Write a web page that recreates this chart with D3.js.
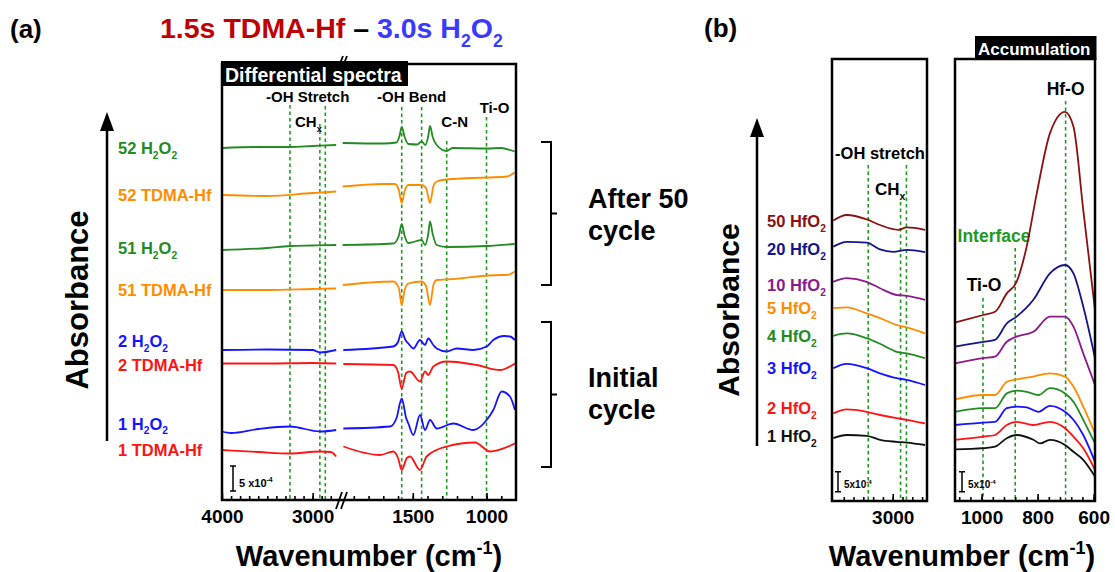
<!DOCTYPE html>
<html>
<head>
<meta charset="utf-8">
<script src="https://cdn.jsdelivr.net/npm/d3@7"></script>
<style>
body { margin: 0; background: #fff; }
svg text { font-family: "Liberation Sans", Arial, sans-serif; font-weight: bold; }
</style>
</head>
<body>
<svg id="chart" width="1115" height="572"></svg>
<script>
// ---- data: [wavenumber (cm-1), absorbance x1e-4 incl. stacking offset] ----

// panel (a), differential spectra
var a52H2O2 = [[4000,70.4],[3600,70.6],[3250,70.6],[3000,70.8],[2740,71.0],
  [1975,71.4],[1700,71.3],[1610,71.5],[1590,72.8],[1575,74.6],[1555,72.6],[1530,71.2],
  [1470,71.1],[1440,71.7],[1415,71.0],[1395,72.8],[1383,74.8],[1365,72.6],[1338,71.0],
  [1270,69.8],[1230,70.4],[1000,70.3],[900,70.4],[840,70.0],[810,69.7]];
var a52TDMA = [[4000,61.0],[3500,60.8],[3000,61.4],[2900,61.5],[2740,61.7],
  [1975,62.7],[1700,63.2],[1620,63.2],[1595,62.0],[1575,59.4],[1555,61.8],[1530,63.0],
  [1440,63.0],[1410,62.4],[1383,59.4],[1360,62.8],[1338,63.7],[1270,64.1],[1000,64.5],
  [860,64.7],[810,65.5]];
var a51H2O2 = [[4000,50.0],[3500,50.4],[3250,50.8],[3000,50.9],[2740,51.0],
  [1975,51.0],[1632,51.3],[1595,52.8],[1575,55.2],[1555,52.8],[1530,51.4],[1440,52.0],
  [1417,51.0],[1395,53.2],[1383,55.7],[1365,53.2],[1338,51.0],[1270,50.6],[1000,50.8],
  [810,51.2]];
var a51TDMA = [[4000,42.0],[3500,42.0],[3000,42.2],[2740,42.3],
  [1975,43.0],[1632,43.7],[1595,42.4],[1575,39.0],[1555,42.0],[1530,43.3],[1440,43.7],
  [1410,42.8],[1383,39.0],[1360,43.0],[1338,44.0],[1270,44.1],[900,45.0],[863,45.0],
  [807,45.7]];
var a2H2O2 = [[4000,30.0],[3500,30.1],[3000,30.0],[2919,29.5],[2740,30.0],
  [1971,30.0],[1632,30.7],[1600,31.6],[1575,33.7],[1550,32.0],[1530,31.3],[1496,30.3],
  [1451,32.0],[1417,31.0],[1395,32.3],[1361,31.0],[1338,30.3],[1270,29.7],[1202,30.3],
  [1090,30.0],[999,30.7],[954,32.0],[880,32.8],[841,32.7],[807,32.0]];
var a2TDMA = [[4000,27.3],[3500,27.3],[3000,27.4],[2740,27.3],
  [1971,27.2],[1632,27.0],[1600,25.6],[1575,22.3],[1545,25.4],[1519,25.7],[1451,23.7],
  [1417,25.7],[1395,25.0],[1361,26.7],[1270,27.7],[1066,27.0],[909,26.0],[807,27.3]];
var a1H2O2 = [[4000,13.7],[3900,13.4],[3600,14.2],[3250,14.7],[2919,13.7],[2740,14.0],
  [1971,14.3],[1654,14.7],[1610,16.4],[1575,20.3],[1545,16.4],[1530,15.3],[1496,13.0],
  [1451,17.0],[1417,14.0],[1383,16.0],[1338,14.3],[1225,15.3],[1090,14.0],[999,16.0],
  [954,18.0],[897,21.7],[841,20.7],[807,18.0]];
var a1TDMA = [[4000,10.0],[3600,9.6],[3250,9.3],[2919,9.7],[2800,9.6],[2740,8.7],
  [1971,10.7],[1722,9.0],[1632,9.7],[1600,8.4],[1575,6.0],[1540,8.4],[1519,8.7],
  [1451,6.0],[1406,8.7],[1270,10.7],[1078,11.5],[976,9.7],[807,11.3]];

var aNames = ["52 H2O2", "52 TDMA-Hf", "51 H2O2", "51 TDMA-Hf",
  "2 H2O2", "2 TDMA-Hf", "1 H2O2", "1 TDMA-Hf"];
var aSpectra = [a52H2O2, a52TDMA, a51H2O2, a51TDMA, a2H2O2, a2TDMA, a1H2O2, a1TDMA];
var aColors = ["#228b22", "#ff8c00", "#228b22", "#ff8c00",
  "#1414ff", "#ff1414", "#1414ff", "#ff1414"];
var aBands = [3250, 2920, 2860, 1575, 1440, 1270, 1000];

// panel (b), accumulated spectra
var b50 = [[3607,70.1],[3470,71.5],[3266,70.4],[3130,69.0],[2943,67.8],[2857,68.4],[2670,67.8],
  [1095,44.6],[994,46.5],[952,47.3],[910,51.9],[875,54.8],[839,63.6],[803,76.9],[756,91.9],
  [702,97.3],[672,93.6],[637,72.8],[595,47.8]];
var b20 = [[3607,63.6],[3470,64.8],[3266,64.6],[3130,62.9],[2994,62.3],[2857,62.8],[2670,62.2],
  [1095,38.6],[994,39.8],[952,40.3],[910,44.4],[875,46.1],[815,50.3],[756,56.9],[702,59.0],
  [672,56.9],[637,48.6],[595,35.7]];
var b10 = [[3607,54.8],[3470,55.7],[3266,54.8],[3130,53.2],[2960,51.5],[2857,51.3],[2670,50.3],
  [1095,34.4],[994,35.7],[952,36.1],[910,39.8],[875,41.1],[815,42.3],[756,46.1],[702,46.1],
  [672,43.6],[637,36.9],[595,29.0]];
var b5 = [[3607,48.2],[3470,48.4],[3266,46.9],[3130,45.7],[2960,44.0],[2857,43.4],[2670,41.9],
  [1095,25.4],[994,26.5],[952,26.5],[910,29.8],[875,30.4],[815,31.1],[756,31.9],[702,31.1],
  [672,28.6],[637,23.6],[595,16.9]];
var b4 = [[3607,41.3],[3470,41.9],[3266,40.7],[3130,39.3],[2960,37.3],[2857,36.9],[2670,35.7],
  [1095,22.3],[994,23.2],[952,23.2],[910,26.9],[875,27.6],[839,27.3],[797,26.5],[756,28.2],
  [702,26.9],[672,24.8],[637,20.3],[595,14.4]];
var b3 = [[3607,33.2],[3470,34.3],[3266,33.2],[3130,31.9],[2960,30.7],[2857,30.3],[2670,29.0],
  [1095,19.0],[994,19.6],[952,19.8],[910,23.2],[875,23.6],[839,23.4],[797,22.3],[756,23.8],
  [702,22.3],[672,20.3],[637,16.5],[595,9.8]];
var b2 = [[3607,21.9],[3470,22.9],[3266,22.3],[3130,21.5],[2960,20.7],[2857,20.3],[2670,19.4],
  [1095,15.3],[994,16.1],[952,16.5],[910,19.0],[875,19.8],[815,19.0],[756,19.8],[702,18.2],
  [672,16.1],[637,13.2],[595,7.8]];
var b1 = [[3607,15.7],[3470,16.5],[3266,16.3],[3130,15.3],[2960,14.8],[2857,14.6],[2670,14.0],
  [1095,12.9],[994,13.2],[952,13.6],[910,15.7],[875,16.5],[815,15.3],[791,14.4],[756,15.3],
  [702,14.0],[672,12.3],[637,10.3],[595,6.1]];

var bNames = ["50 HfO2", "20 HfO2", "10 HfO2", "5 HfO2", "4 HfO2", "3 HfO2", "2 HfO2", "1 HfO2"];
var bSpectra = [b50, b20, b10, b5, b4, b3, b2, b1];
var bColors = ["#8b1010", "#14148c", "#8b1a8b", "#ff8c00", "#228b22", "#1414ff", "#ff1414", "#111111"];
var bBandsLeft = [3250, 2920, 2860];
var bBandsRight = [995, 880, 700];

// ---- layout ----
var green = "#1f9a1f";
var svg = d3.select("#chart");

var xAL = d3.scaleLinear().domain([4000, 2720]).range([222, 338]);
var xAR = d3.scaleLinear().domain([1980, 800]).range([342, 516]);
var yA = d3.scaleLinear().domain([0, 87.2]).range([500, 64]);

var xBL = d3.scaleLinear().domain([3620, 2650]).range([832, 927]);
var xBR = d3.scaleLinear().domain([1095, 595]).range([955, 1095]);
var yB = d3.scaleLinear().domain([0, 110.5]).range([501, 59]);

// text with sub/superscripts
function chemParts(s) {
  var parts = [], re = /([A-Za-z])(\d)/g, last = 0, m;
  while ((m = re.exec(s))) {
    parts.push([s.slice(last, m.index + 1)]);
    parts.push([m[2], "sub"]);
    last = m.index + 2;
  }
  if (last < s.length) parts.push([s.slice(last)]);
  return parts;
}
function addText(g, x, y, parts, size, fill, anchor) {
  var t = g.append("text").attr("x", x).attr("y", y)
    .attr("fill", fill || "#000").attr("text-anchor", anchor || "start")
    .style("font-size", size + "px");
  var prev = 0;
  parts.forEach(function (p) {
    var off = p[1] === "sub" ? size * 0.3 : p[1] === "sup" ? -size * 0.42 : 0;
    t.append("tspan").attr("dy", off - prev)
      .style("font-size", (p[1] ? size * 0.62 : size) + "px")
      .attr("fill", p[2] || null)
      .text(p[0]);
    prev = off;
  });
  return t;
}

function drawSpectra(g, spectra, colors, xLeft, xRight, yScale, split) {
  spectra.forEach(function (s, i) {
    [s.filter(function (d) { return d[0] > split; }),
     s.filter(function (d) { return d[0] <= split; })].forEach(function (seg, k) {
      var xs = k === 0 ? xLeft : xRight;
      var line = d3.line()
        .x(function (d) { return xs(d[0]); })
        .y(function (d) { return yScale(d[1]); })
        .curve(d3.curveMonotoneX);
      g.append("path").datum(seg).attr("d", line)
        .attr("fill", "none").attr("stroke", colors[i]).attr("stroke-width", 1.8);
    });
  });
}

function dashed(g, x, y0, y1) {
  g.append("line").attr("x1", x).attr("x2", x).attr("y1", y0).attr("y2", y1)
    .attr("stroke", green).attr("stroke-width", 1.6).attr("stroke-dasharray", "3.5,3");
}

function ticks(g, scale, minor, major, y, labelled) {
  var axMinor = d3.axisBottom(scale).tickValues(minor).tickSize(-4).tickFormat("");
  var axMajor = d3.axisBottom(scale).tickValues(major).tickSize(-7).tickPadding(10)
    .tickFormat(labelled ? d3.format("d") : "");
  [axMinor, axMajor].forEach(function (ax) {
    var a = g.append("g").attr("transform", "translate(0," + y + ")").call(ax);
    a.select(".domain").remove();
    a.selectAll("line").attr("stroke", "#000").attr("stroke-width", 1.6);
    a.selectAll("text").attr("fill", "#000")
      .style("font-size", "19px").style("font-family", "'Liberation Sans', Arial, sans-serif")
      .style("font-weight", "bold");
  });
}

function scaleBar(g, x, y, v0, label, size) {
  var y0 = y(v0), y1 = y(v0 + 5);
  g.append("path").attr("d", "M" + (x - 3) + "," + y0 + "H" + (x + 3) + "M" + x + "," + y0 +
    "V" + y1 + "M" + (x - 3) + "," + y1 + "H" + (x + 3))
    .attr("stroke", "#000").attr("stroke-width", 1.5).attr("fill", "none");
  addText(g, x + 6, y0 - 4, label, size);
}

function arrow(g, x, yTop, yBottom) {
  g.append("line").attr("x1", x).attr("x2", x).attr("y1", yBottom).attr("y2", yTop + 14)
    .attr("stroke", "#000").attr("stroke-width", 2.5);
  g.append("path").attr("d", "M" + x + "," + yTop + "L" + (x - 7) + "," + (yTop + 19) +
    "L" + (x + 7) + "," + (yTop + 19) + "Z").attr("fill", "#000");
}

// ================= panel (a) =================
var ga = svg.append("g");
addText(ga, 10, 38, [["(a)"]], 26);
addText(ga, 160, 38, [["1.5s TDMA-Hf", null, "#c00000"], [" \u2013 ", null, "#000"],
  ["3.0s H", null, "#3a3aff"], ["2", "sub", "#3a3aff"], ["O", null, "#3a3aff"], ["2", "sub", "#3a3aff"]], 28.5);

// bands
var aBandTop = [105, 124, 106, 107, 107, 141, 117];
aBands.forEach(function (w, i) {
  dashed(ga, w > 2300 ? xAL(w) : xAR(w), aBandTop[i], 499);
});
addText(ga, (xAL(3250) + xAL(2860)) / 2, 102, [["-OH Stretch"]], 15, "#000", "middle");
addText(ga, xAL(2920) + 2, 127, [["CH"], ["x", "sub"]], 15, "#000", "end");
addText(ga, (xAR(1575) + xAR(1440)) / 2, 102, [["-OH Bend"]], 15, "#000", "middle");
addText(ga, xAR(1270) + 8, 127, [["C-N"]], 15, "#000", "middle");
addText(ga, xAR(1000) + 8, 113, [["Ti-O"]], 15, "#000", "middle");

drawSpectra(ga, aSpectra, aColors, xAL, xAR, yA, 2300);

// frame and header tab
ga.append("rect").attr("x", 222).attr("y", 64).attr("width", 294).attr("height", 436)
  .attr("fill", "none").attr("stroke", "#000").attr("stroke-width", 2.5);
ga.append("rect").attr("x", 221).attr("y", 61).attr("width", 187).attr("height", 25).attr("fill", "#000");
addText(ga, 225, 81.5, [["Differential spectra"]], 19.5, "#fff");

// axis break marks
ga.append("path").attr("d", "M336,509L342,492M341,509L347,492M339,66L343,56M343,66L347,56")
  .attr("stroke", "#000").attr("stroke-width", 1.8);

ticks(ga, xAL, d3.range(2800, 4000, 100), [4000, 3000], 500, true);
ticks(ga, xAR, d3.range(900, 1980, 100), [1500, 1000], 500, true);

scaleBar(ga, 233, yA, 1.8, [["5 x10"], ["-4", "sup"]], 11);

// series labels
var aNudge = [0, 0, -2, 0, -9, 1, -8, 0];
aNames.forEach(function (n, i) {
  addText(ga, 118, yA(aSpectra[i][0][1]) + 6 + aNudge[i], chemParts(n), 16.5, aColors[i]);
});

arrow(ga, 107, 112, 441);
ga.append("text").attr("transform", "translate(88,300) rotate(-90)")
  .attr("text-anchor", "middle").style("font-size", "31px").text("Absorbance");
addText(ga, 369, 566, [["Wavenumber (cm"], ["-1", "sup"], [")"]], 29, "#000", "middle");

// brackets
[[142, 285], [322, 467]].forEach(function (b) {
  ga.append("path").attr("d", "M541," + b[0] + "H551V" + b[1] + "H541M551," +
    ((b[0] + b[1]) / 2) + "H557").attr("fill", "none").attr("stroke", "#000").attr("stroke-width", 2);
});
addText(ga, 588, 208, [["After 50"]], 27);
addText(ga, 588, 240, [["cycle"]], 27);
addText(ga, 588, 387, [["Initial"]], 27);
addText(ga, 588, 419, [["cycle"]], 27);

// ================= panel (b) =================
var gb = svg.append("g");
addText(gb, 704, 37, [["(b)"]], 26);

var bTopLeft = [165, 202, 165];
bBandsLeft.forEach(function (w, i) { dashed(gb, xBL(w), bTopLeft[i], 500); });
var bTopRight = [298, 248, 101];
bBandsRight.forEach(function (w, i) { dashed(gb, xBR(w), bTopRight[i], 500); });

addText(gb, 880, 159, [["-OH stretch"]], 16.5, "#000", "middle");
addText(gb, 875, 195, [["CH"], ["x", "sub"]], 17);
addText(gb, xBR(700), 95, [["Hf-O"]], 17.5, "#000", "middle");
addText(gb, 994, 242, [["Interface"]], 17.5, green, "middle");
addText(gb, xBR(995) + 1, 291, [["Ti-O"]], 17.5, "#000", "middle");

drawSpectra(gb, bSpectra, bColors, xBL, xBR, yB, 2000);

gb.append("rect").attr("x", 832).attr("y", 59).attr("width", 95).attr("height", 442)
  .attr("fill", "none").attr("stroke", "#000").attr("stroke-width", 2.5);
gb.append("rect").attr("x", 955).attr("y", 59).attr("width", 140).attr("height", 442)
  .attr("fill", "none").attr("stroke", "#000").attr("stroke-width", 2.5);
gb.append("rect").attr("x", 975).attr("y", 36).attr("width", 121.5).attr("height", 24).attr("fill", "#000");
addText(gb, 978, 54.5, [["Accumulation"]], 17, "#fff");

ticks(gb, xBL, d3.range(2700, 3600, 100), [3000], 501, true);
ticks(gb, xBR, d3.range(600, 1095, 40), [1000, 800, 600], 501, true);

scaleBar(gb, 838, yB, 2.3, [["5x10"], ["-4", "sup"]], 10);
scaleBar(gb, 962, yB, 2.3, [["5x10"], ["-4", "sup"]], 10);

var bNudge = [0, 2, 3, 0, 0, 0, -5, -2];
bNames.forEach(function (n, i) {
  addText(gb, 767, yB(bSpectra[i][0][1]) + 6 + bNudge[i], chemParts(n), 16.5, bColors[i]);
});

arrow(gb, 757, 118, 446);
gb.append("text").attr("transform", "translate(739,310) rotate(-90)")
  .attr("text-anchor", "middle").style("font-size", "30px").text("Absorbance");
addText(gb, 962, 566, [["Wavenumber (cm"], ["-1", "sup"], [")"]], 29, "#000", "middle");
</script>
</body>
</html>
